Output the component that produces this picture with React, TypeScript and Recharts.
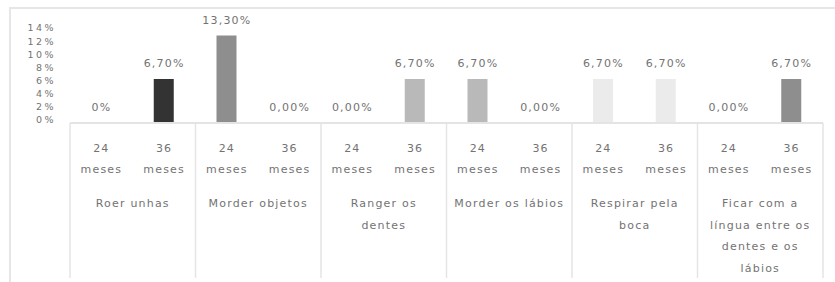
import React from 'react';
import { ComposedChart, Bar, Line, XAxis, YAxis, Cell, LabelList } from 'recharts';

// Behaviour groups (line breaks follow the reference wrapping)
const groups = [
  'Roer unhas',
  'Morder objetos',
  'Ranger os\ndentes',
  'Morder os lábios',
  'Respirar pela\nboca',
  'Ficar com a\nlíngua entre os\ndentes e os\nlábios',
];
const periods = ['24 meses', '36 meses'];

// One value per group/period pair, in percent
const values = [0, 6.7, 13.3, 0, 0, 6.7, 6.7, 0, 6.7, 6.7, 0, 6.7];
const valueLabels = [
  '0%', '6,70%', '13,30%', '0,00%', '0,00%', '6,70%',
  '6,70%', '0,00%', '6,70%', '6,70%', '0,00%', '6,70%',
];
const barColors = [
  '#333333', '#333333', '#8e8e8e', '#8e8e8e', '#b9b9b9', '#b9b9b9',
  '#b9b9b9', '#b9b9b9', '#ebebeb', '#ebebeb', '#8e8e8e', '#8e8e8e',
];
const yTicks = [0, 2, 4, 6, 8, 10, 12, 14];

const rows = values.map((value, i) => ({
  key: String(i),
  group: groups[Math.floor(i / 2)],
  period: periods[i % 2],
  value,
  label: valueLabels[i],
}));

const TEXT = '#737373';
const RULE = '#e4e4e4';
const FONT = '"DejaVu Sans", sans-serif';

const CategoryTick = (props: any) => {
  const { x, y, index, payload } = props;
  const half = payload && payload.offset ? payload.offset : 31;
  const row = rows[index];
  if (!row) return null;
  const [num, word] = row.period.split(' ');
  const isFirst = index % 2 === 0;
  const isLast = index === rows.length - 1;
  const textProps = {
    textAnchor: 'middle' as const,
    fontSize: 11,
    fill: TEXT,
    fontFamily: FONT,
    letterSpacing: 1.2,
  };
  return (
    <g>
      <text x={x} y={y + 29} {...textProps}>{num}</text>
      <text x={x} y={y + 50} {...textProps}>{word}</text>
      {isFirst && (
        <>
          <line x1={x - half} x2={x - half} y1={y} y2={y + 155} stroke={RULE} strokeWidth={1.5} />
          {row.group.split('\n').map((line, i) => (
            <text key={i} x={x + half} y={y + 84 + i * 21.7} {...textProps}>
              {line}
            </text>
          ))}
        </>
      )}
      {isLast && (
        <line x1={x + half} x2={x + half} y1={y} y2={y + 155} stroke={RULE} strokeWidth={1.5} />
      )}
    </g>
  );
};

const App: React.FC = () => {
  return (
    <div
      style={{
        position: 'fixed',
        left: 0,
        top: 0,
        width: 835,
        height: 282,
        overflow: 'hidden',
        background: '#ffffff',
      }}
    >
      <div
        style={{
          position: 'absolute',
          left: 9,
          top: 7,
          width: 900,
          height: 300,
          borderTop: '2px solid #e6e6e6',
          borderLeft: '2px solid #e6e6e6',
        }}
      />
      <div style={{ position: 'absolute', left: 0, top: 0 }}>
        <ComposedChart
          width={835}
          height={282}
          data={rows}
          margin={{ top: 31, right: 12, bottom: 0, left: 0 }}
          barSize={20}
        >
          <XAxis
            dataKey="key"
            interval={0}
            height={159}
            tickSize={0}
            tickMargin={0}
            tickLine={false}
            axisLine={{ stroke: RULE, strokeWidth: 2 }}
            tick={<CategoryTick />}
          />
          <YAxis
            width={70}
            domain={[0, 14]}
            ticks={yTicks}
            interval={0}
            tickFormatter={(v: number) => `${v}%`}
            axisLine={false}
            tickLine={false}
            tickSize={0}
            tickMargin={14}
            tick={{ fontSize: 9.5, fill: TEXT, fontFamily: FONT, letterSpacing: 2.5, dy: -3 }}
          />
          <Bar dataKey="value" isAnimationActive={false}>
            {rows.map((r, i) => (
              <Cell key={r.key} fill={barColors[i]} />
            ))}
          </Bar>
          {/* invisible series that carries the value labels, zeros included */}
          <Line
            dataKey="value"
            stroke="none"
            dot={false}
            activeDot={false}
            legendType="none"
            isAnimationActive={false}
          >
            <LabelList
              dataKey="label"
              position="top"
              offset={12}
              style={{ fontSize: 11, fill: TEXT, fontFamily: FONT, letterSpacing: 1.2 }}
            />
          </Line>
        </ComposedChart>
      </div>
    </div>
  );
};

export default App;
